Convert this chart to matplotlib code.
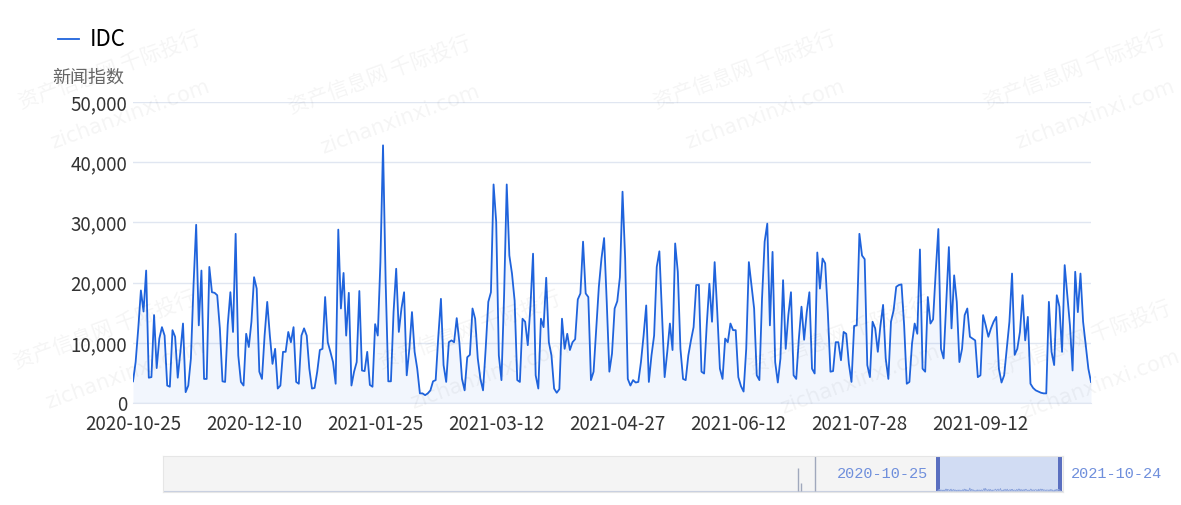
import pandas as pd
import matplotlib
matplotlib.use('Agg')
import matplotlib.pyplot as plt
from matplotlib.ticker import FuncFormatter
from matplotlib.patches import Rectangle

plt.rcParams['font.family'] = ['Noto Sans CJK SC', 'DejaVu Sans']

#%% DATA

start_date = '2020-10-25'
end_date = '2021-10-24'
series_name = 'IDC'
y_label = '新闻指数'
y_ticks = [0, 10000, 20000, 30000, 40000, 50000]
tick_step_days = 46

# daily news index
idc_values = [
    3600, 6800, 12400, 18700, 15200, 22000, 4200, 4300, 14600, 5800,
    10700, 12600, 11200, 2900, 2700, 12100, 11000, 4200, 8500, 13200,
    1800, 2900, 7400, 19600, 29600, 12900, 22000, 4000, 4000, 22600,
    18400, 18300, 17900, 12400, 3600, 3500, 13000,
    18400, 11800, 28100, 7900, 3500, 2900, 11500, 9300, 13500, 20900,
    19000, 5200, 4000, 11200, 16800, 11200, 6500, 9000, 2400, 2900,
    8500, 8500, 11800, 10100, 12600, 3500, 3200, 11200, 12400, 11200,
    5700, 2400, 2500, 5200, 8800, 9000,
    17600, 10100, 8500, 6800, 3200, 28800, 15700, 21600, 11200, 18300,
    2900, 5200, 6800, 18600, 5400, 5300, 8500, 3000, 2700, 13100,
    11200, 23400, 42800, 20100, 3600, 3600, 15100, 22300, 11800, 15700,
    18400, 4600, 9000, 15100, 8500, 5700,
    1600, 1600, 1300, 1600, 2100, 3600, 3800, 11000, 17300, 6300,
    3500, 10100, 10400, 10100, 14100, 10100, 4000, 2100, 7600, 8000,
    15700, 14000, 7400, 4000, 2100, 9000, 16800, 18400, 36300, 30100,
    7900, 3800, 17900, 36300, 24500, 21500, 17000,
    3800, 3500, 14000, 13500, 9600, 16000, 24800, 4600, 2400, 14000,
    12600, 20800, 10100, 7900, 2400, 1700, 2300, 14000, 9000, 11500,
    8800, 10100, 10600, 17200, 18200, 26800, 18200, 17600, 3800, 5200,
    12400, 19300, 24000, 27400, 16800, 5200, 8200,
    15700, 16900, 20900, 35100, 24000, 4000, 2900, 3800, 3400, 3500,
    6800, 11200, 16200, 3500, 7900, 11200, 22600, 25200, 14600, 4300,
    8500, 13200, 8800, 26500, 21800, 9000, 4000, 3800, 7900, 10400,
    12600, 19600, 19600, 5200, 4900, 13000,
    19800, 13500, 23400, 15100, 5700, 4000, 10700, 10100, 13200, 12100,
    12100, 4300, 2800, 1900, 9000, 23400, 19600, 15700, 4600, 3800,
    17300, 26800, 29800, 12900, 25100, 6800, 3400, 7400, 20400, 9000,
    14600, 18400, 4600, 4000, 10700, 16000,
    10500, 15100, 18400, 5700, 4900, 25000, 19000, 24000, 23200, 15100,
    5200, 5300, 10100, 10100, 7100, 11800, 11500, 6500, 3500, 12800,
    12900, 28100, 24500, 23900, 6300, 4300, 13500, 12400, 8500, 12900,
    16300, 7400, 4000, 13500, 15400, 19300, 19600,
    19700, 12900, 3200, 3500, 9900, 13200, 11500, 25500, 5700, 5200,
    17600, 13200, 13900, 21800, 28900, 9000, 7400, 16800, 25900, 12400,
    21200, 16800, 6800, 9000, 14600, 15700, 11000, 10700, 10400, 4300,
    4600, 14600, 12900, 11000, 12400, 13500,
    14300, 5700, 3400, 4600, 9000, 13500, 21500, 8000, 9000, 11800,
    17900, 10400, 14300, 3200, 2500, 2100, 1900, 1700, 1600, 1600,
    16800, 8500, 6300, 17900, 16000, 8500, 22900, 17900, 12900, 5400,
    21800, 15100, 21500, 13500, 9600, 5700, 3500,
]

dates = pd.date_range(start_date, end_date, freq='D')

# data zoom slider: selected window and spikes of the full-history shadow
nav_window = [0.861, 0.997]
nav_spike_pos = [0.706, 0.709, 0.724]
nav_spike_height = [0.67, 0.25, 1.0]
nav_scale = 540000
nav_labels = ['2020-10-25', '2021-10-24']

#%% FIGURE

W, H = 1181, 505
fig = plt.figure(figsize=(W / 100, H / 100), dpi=100)

def box(x0, y0, x1, y1):
    # pixel box (top-left origin) -> figure fraction rect
    return [x0 / W, 1 - y1 / H, (x1 - x0) / W, (y1 - y0) / H]

# watermarks (kept inside the canvas)
wm_cn = '资产信息网 千际投行'
wm_en = 'zichanxinxi.com'
wm_spots = [(110, 70), (380, 75), (745, 70), (1075, 70),
            (105, 330), (470, 330), (840, 335), (1080, 340)]
for cx, cy in wm_spots:
    fig.text(cx / W, 1 - cy / H, wm_cn, fontsize=15, rotation=20,
             color='#000000', alpha=0.045, ha='center', va='center')
    fig.text((cx + 20) / W, 1 - (cy + 45) / H, wm_en, fontsize=15, rotation=20,
             color='#000000', alpha=0.045, ha='center', va='center',
             family='DejaVu Sans')

ax = fig.add_axes(box(133, 102, 1091, 403))
ax.fill_between(dates, idc_values, color='#2a6ae0', alpha=0.06, lw=0)
ax.plot(dates, idc_values, color='#1f63dc', lw=1.3, label=series_name)

ax.set_xlim(dates[0], dates[-1])
ax.set_ylim(0, 50000)
ax.set_yticks(y_ticks)
ax.yaxis.set_major_formatter(FuncFormatter(lambda v, p: f'{int(v):,}'))
ax.set_xticks(dates[::tick_step_days])
ax.set_xticklabels([d.strftime('%Y-%m-%d') for d in dates[::tick_step_days]])
ax.yaxis.grid(True, color='#E0E6F1', lw=1)
ax.set_axisbelow(True)
for s in ['top', 'right', 'left']:
    ax.spines[s].set_visible(False)
ax.spines['bottom'].set_color('#E0E6F1')
ax.tick_params(axis='both', length=0, labelsize=13.5, colors='#333333')
ax.tick_params(axis='y', pad=4)
ax.tick_params(axis='x', pad=8)

fig.text(88 / W, 1 - 78 / H, y_label, fontsize=13, color='#666666',
         ha='center', va='center')

ax.legend(loc='center left', bbox_to_anchor=(58 / W, 1 - 40 / H),
          bbox_transform=fig.transFigure, frameon=False, fontsize=16,
          handlelength=0.95, handletextpad=0.5, borderpad=0, borderaxespad=0)

#%% DATA ZOOM SLIDER

nav = fig.add_axes(box(163, 456, 1063, 492))
nav.set_xlim(0, 1)
nav.set_ylim(0, 1)
nav.set_facecolor('#f4f4f4')
for s in nav.spines.values():
    s.set_color('#e6e6e6')
nav.set_xticks([])
nav.set_yticks([])

nav.axhline(0.03, color='#c8cfe0', lw=0.8)
for p, h in zip(nav_spike_pos, nav_spike_height):
    nav.vlines(p, 0.03, h, color='#a0a8bc', lw=1.0)

win_x = [nav_window[0] + (nav_window[1] - nav_window[0]) * i / (len(idc_values) - 1)
         for i in range(len(idc_values))]
win_y = [0.03 + v / nav_scale for v in idc_values]
nav.fill_between(win_x, 0.03, win_y, color='#8fa6dc', alpha=0.4, lw=0)
nav.plot(win_x, win_y, color='#8fa6dc', lw=0.6)

nav.add_patch(Rectangle((nav_window[0], 0), nav_window[1] - nav_window[0], 1,
                        color='#c9d7f3', alpha=0.8, lw=0))
hw = 4 / 900
for wx in nav_window:
    nav.add_patch(Rectangle((wx - hw / 2, 0), hw, 1, color='#5a6fc0', lw=0))

fig.text(928 / W, 1 - 474 / H, nav_labels[0], fontsize=11, color='#6f8fdc',
         ha='right', va='center', family='Liberation Mono')
fig.text(1071 / W, 1 - 474 / H, nav_labels[1], fontsize=11, color='#6f8fdc',
         ha='left', va='center', family='Liberation Mono')

fig.savefig('out.png', dpi=100)
